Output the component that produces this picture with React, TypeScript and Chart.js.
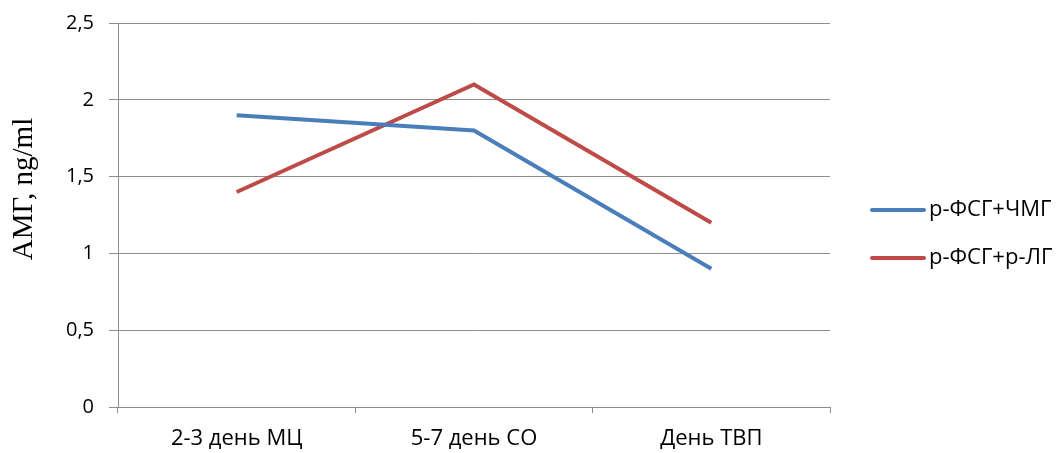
import React, { useEffect, useRef } from "react";
import { Chart, registerables } from "chart.js";

Chart.register(...registerables);

const categories = ["2-3 день МЦ", "5-7 день СО", "День ТВП"];
const seriesNames = ["р-ФСГ+ЧМГ", "р-ФСГ+р-ЛГ"];
const blueValues = [1.9, 1.8, 0.9];
const redValues = [1.4, 2.1, 1.2];
const yTickValues = [0, 0.5, 1, 1.5, 2, 2.5];
const yTitle = "АМГ, ng/ml";

const BLUE = "#4a7ebb";
const RED = "#be4b48";
const GRID = "#8c8c8c";
const LABEL_FONT = "'Open Sans', sans-serif";

const legendPlugin = {
  id: "customLegend",
  afterDraw(chart: any) {
    const ctx = chart.ctx;
    const area = chart.chartArea;
    ctx.save();
    chart.data.datasets.forEach((ds: any, i: number) => {
      const y = area.top + 187 + i * 48;
      const x0 = area.right + 42;
      ctx.strokeStyle = ds.borderColor;
      ctx.lineWidth = 4;
      ctx.lineCap = "round";
      ctx.beginPath();
      ctx.moveTo(x0, y);
      ctx.lineTo(x0 + 52, y);
      ctx.stroke();
      ctx.fillStyle = "#000";
      ctx.font = `22px ${LABEL_FONT}`;
      ctx.textBaseline = "middle";
      ctx.textAlign = "left";
      ctx.fillText(ds.label, x0 + 57, y);
    });
    // y-axis title
    ctx.translate(32, (area.top + area.bottom) / 2 - 26);
    ctx.rotate(-Math.PI / 2);
    ctx.font = "29px 'Liberation Serif', serif";
    ctx.fillStyle = "#000";
    ctx.textAlign = "center";
    ctx.textBaseline = "alphabetic";
    ctx.fillText(yTitle, 0, 0);
    ctx.restore();
  },
};

export default function App() {
  const ref = useRef<HTMLCanvasElement | null>(null);
  useEffect(() => {
    document.body.style.margin = "0";
    if (!ref.current) return;
    const chart = new Chart(ref.current, {
      type: "line",
      data: {
        labels: categories,
        datasets: [
          {
            label: seriesNames[0],
            data: blueValues,
            borderColor: BLUE,
            backgroundColor: BLUE,
            borderWidth: 4,
            pointRadius: 0,
            tension: 0,
          },
          {
            label: seriesNames[1],
            data: redValues,
            borderColor: RED,
            backgroundColor: RED,
            borderWidth: 4,
            pointRadius: 0,
            tension: 0,
          },
        ],
      },
      options: {
        responsive: false,
        animation: false,
        devicePixelRatio: 1,
        layout: { padding: { top: 23, right: 230, bottom: 0, left: 0 } },
        plugins: {
          legend: { display: false },
          tooltip: { enabled: false },
        },
        scales: {
          x: {
            offset: true,
            grid: {
              offset: true,
              drawOnChartArea: false,
              drawTicks: true,
              tickLength: 6,
              color: GRID,
            },
            border: { color: GRID, width: 1 },
            ticks: {
              color: "#000",
              font: { family: LABEL_FONT, size: 22 },
              padding: 13,
            },
            afterFit: (scale: any) => {
              scale.height = 46;
              scale.paddingLeft = 0;
              scale.paddingRight = 0;
            },
          },
          y: {
            min: 0,
            max: 2.5,
            afterBuildTicks: (scale: any) => {
              scale.ticks = yTickValues.map((v) => ({ value: v }));
            },
            grid: { color: GRID, tickLength: 9 },
            border: { color: GRID, width: 1 },
            ticks: {
              color: "#000",
              font: { family: LABEL_FONT, size: 20 },
              padding: 15,
              callback: (v: any) => String(v).replace(".", ","),
            },
            afterFit: (scale: any) => {
              scale.width = 118;
              scale.paddingTop = 0;
              scale.paddingBottom = 0;
            },
          },
        },
      },
      plugins: [legendPlugin],
    });
    return () => chart.destroy();
  }, []);
  return (
    <div style={{ width: 1060, height: 453 }}>
      <canvas ref={ref} width={1060} height={453} style={{ display: "block" }} />
    </div>
  );
}
